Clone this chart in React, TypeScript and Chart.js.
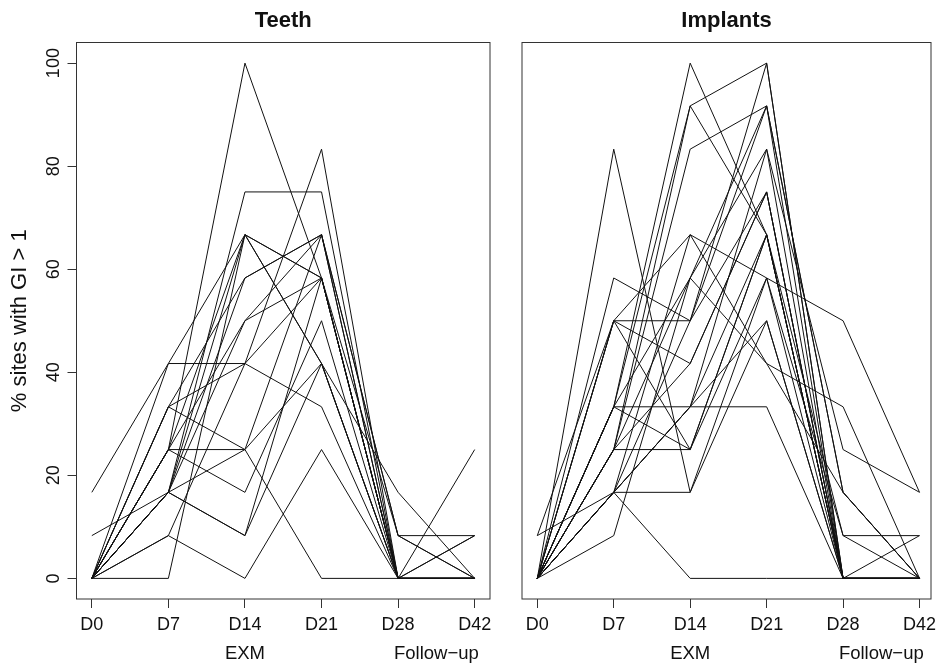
import React, { useEffect, useRef } from "react";
import { Chart, registerables } from "chart.js";

Chart.register(...registerables);

// ---- data ----
const timePoints = ["D0", "D7", "D14", "D21", "D28", "D42"];
const periodLabels = ["EXM", "Follow\u2212up"];
const periodCenters = [2, 4.5];
const yTickValues = [0, 20, 40, 60, 80, 100];
const yAxisTitle = "% sites with GI > 1";

const teethSites: number[][] = [
  [0, 25, 100, 58.3, 0, 0],
  [0, 16.7, 75, 75, 0, 0],
  [16.7, 41.7, 66.7, 58.3, 0, 0],
  [0, 41.7, 41.7, 33.3, 0, 0],
  [0, 25, 25, 66.7, 8.3, 0],
  [0, 8.3, 0, 25, 0, 0],
  [0, 0, 66.7, 41.7, 0, 8.3],
  [0, 33.3, 25, 0, 0, 0],
  [0, 16.7, 8.3, 58.3, 0, 0],
  [0, 16.7, 8.3, 41.7, 16.7, 0],
  [8.3, 16.7, 58.3, 66.7, 0, 0],
  [0, 25, 16.7, 50, 0, 0],
  [0, 33.3, 41.7, 83.3, 0, 0],
  [0, 16.7, 50, 66.7, 8.3, 8.3],
  [0, 25, 66.7, 41.7, 0, 25],
  [0, 33.3, 58.3, 66.7, 0, 0],
  [0, 16.7, 66.7, 58.3, 8.3, 0],
  [0, 25, 50, 58.3, 0, 0],
  [0, 8.3, 41.7, 58.3, 0, 8.3],
  [0, 16.7, 25, 41.7, 0, 0],
];

const implantSites: number[][] = [
  [0, 83.3, 16.7, 50, 0, 0],
  [0, 33.3, 100, 66.7, 0, 0],
  [0, 33.3, 91.7, 100, 0, 0],
  [0, 25, 83.3, 91.7, 16.7, 0],
  [0, 58.3, 50, 75, 0, 0],
  [0, 50, 50, 91.7, 0, 0],
  [0, 16.7, 66.7, 58.3, 50, 16.7],
  [0, 25, 25, 66.7, 0, 0],
  [0, 33.3, 33.3, 33.3, 0, 0],
  [0, 16.7, 0, 0, 0, 8.3],
  [0, 16.7, 16.7, 58.3, 8.3, 8.3],
  [8.3, 16.7, 33.3, 83.3, 25, 16.7],
  [0, 8.3, 58.3, 41.7, 33.3, 0],
  [0, 50, 41.7, 75, 0, 0],
  [0, 25, 91.7, 66.7, 0, 0],
  [0, 16.7, 50, 100, 0, 0],
  [0, 33.3, 58.3, 91.7, 16.7, 0],
  [8.3, 50, 25, 66.7, 0, 0],
  [0, 25, 41.7, 75, 0, 0],
  [0, 16.7, 33.3, 50, 0, 0],
  [0, 50, 66.7, 41.7, 16.7, 0],
  [0, 33.3, 25, 58.3, 0, 0],
  [0, 16.7, 33.3, 66.7, 8.3, 0],
  [0, 25, 58.3, 83.3, 0, 0],
];

const FONT = "'Liberation Sans', Arial, Helvetica, sans-serif";

type PanelProps = {
  title: string;
  series: number[][];
  showY: boolean;
  left: number;
  width: number;
  padLeft: number;
  padRight: number;
  xMax: number;
};

function Panel({ title, series, showY, left, width, padLeft, padRight, xMax }: PanelProps) {
  const ref = useRef<HTMLCanvasElement | null>(null);

  useEffect(() => {
    if (!ref.current) return;
    const decor = {
      id: "decor",
      afterDraw(chart: any) {
        const { ctx, chartArea, scales } = chart;
        ctx.save();
        // box
        ctx.strokeStyle = "#333";
        ctx.lineWidth = 1;
        ctx.strokeRect(chartArea.left, chartArea.top, chartArea.right - chartArea.left, chartArea.bottom - chartArea.top);
        // title
        ctx.fillStyle = "#111";
        ctx.font = `bold 22px ${FONT}`;
        ctx.textAlign = "center";
        ctx.textBaseline = "middle";
        ctx.fillText(title, (chartArea.left + chartArea.right) / 2, 21);
        // period labels
        ctx.font = `18.5px ${FONT}`;
        periodLabels.forEach((lab, i) => {
          ctx.fillText(lab, scales.x.getPixelForValue(periodCenters[i]), 654);
        });
        if (showY) {
          const ys = scales.y;
          ctx.font = `18px ${FONT}`;
          yTickValues.forEach((v) => {
            const py = ys.getPixelForValue(v);
            ctx.save();
            ctx.translate(54, py);
            ctx.rotate(-Math.PI / 2);
            ctx.fillText(String(v), 0, 0);
            ctx.restore();
          });
          ctx.font = `22px ${FONT}`;
          ctx.save();
          ctx.translate(20, (chartArea.top + chartArea.bottom) / 2);
          ctx.rotate(-Math.PI / 2);
          ctx.fillText(yAxisTitle, 0, 0);
          ctx.restore();
        }
        ctx.restore();
      },
    };

    const chart = new Chart(ref.current, {
      type: "line",
      data: {
        datasets: series.map((s) => ({
          data: s.map((v, i) => ({ x: i, y: v })),
          borderColor: "#111",
          borderWidth: 1,
          pointRadius: 0,
          fill: false,
          tension: 0,
        })),
      },
      options: {
        responsive: false,
        animation: false,
        events: [],
        layout: { padding: { left: padLeft, right: padRight, top: 42.5, bottom: 0 } },
        plugins: { legend: { display: false }, tooltip: { enabled: false }, title: { display: false } },
        scales: {
          x: {
            type: "linear",
            min: -0.2,
            max: xMax,
            afterBuildTicks: (scale: any) => {
              scale.ticks = timePoints.map((_, i) => ({ value: i }));
            },
            afterFit: (scale: any) => {
              scale.height = 65;
              scale.paddingLeft = 0;
              scale.paddingRight = 0;
            },
            ticks: {
              autoSkip: false,
              maxRotation: 0,
              minRotation: 0,
              color: "#111",
              padding: 6,
              font: { family: FONT, size: 18 },
              callback: (v: any) => timePoints[Number(v)] ?? "",
            },
            grid: { drawOnChartArea: false, drawTicks: true, tickLength: 9, color: "#333", lineWidth: 1 },
            border: { display: false },
          },
          y: {
            type: "linear",
            display: showY,
            min: -4,
            max: 104,
            afterBuildTicks: (scale: any) => {
              scale.ticks = yTickValues.map((v) => ({ value: v }));
            },
            afterFit: (scale: any) => {
              scale.width = showY ? 76.5 : 0;
              scale.paddingTop = 0;
              scale.paddingBottom = 0;
            },
            ticks: { display: false },
            grid: { drawOnChartArea: false, drawTicks: true, tickLength: 9, color: "#333", lineWidth: 1 },
            border: { display: false },
          },
        },
      },
      plugins: [decor],
    } as any);
    return () => chart.destroy();
  }, []);

  return (
    <canvas
      ref={ref}
      width={width}
      height={664}
      style={{ position: "absolute", left, top: 0, width, height: 664 }}
    />
  );
}

export default function App() {
  return (
    <div style={{ position: "absolute", left: 0, top: 0, width: 938, height: 664, background: "#fff" }}>
      <Panel title="Teeth" series={teethSites} showY={true} left={0} width={505} padLeft={0} padRight={15} xMax={5.2} />
      <Panel title="Implants" series={implantSites} showY={false} left={505} width={433} padLeft={17} padRight={7} xMax={5.15} />
    </div>
  );
}
